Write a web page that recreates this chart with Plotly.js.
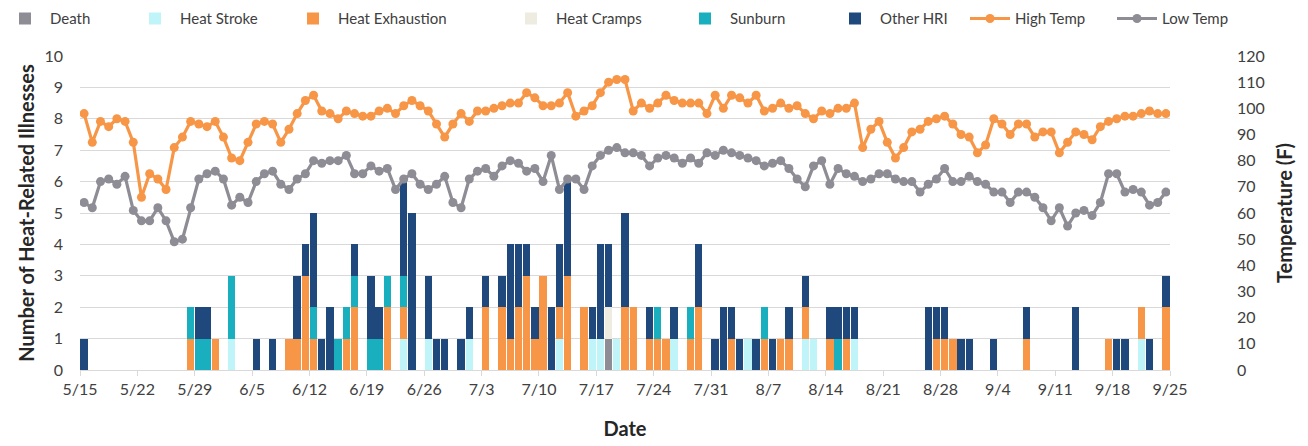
<!DOCTYPE html>
<html><head><meta charset="utf-8">
<script src="https://cdn.plot.ly/plotly-3.0.1.min.js"></script>
<style>html,body{margin:0;padding:0;background:#fff}#chart{width:1308px;height:446px}</style>
</head><body><div id="chart"></div>
<script>
// Daily series, 5/15 .. 9/24 (one row per week)
const startYMD = [2023, 4, 15];
const nDays = 133;
const tickLabels = ['5/15','5/22','5/29','6/5','6/12','6/19','6/26','7/3','7/10','7/17','7/24','7/31','8/7','8/14','8/21','8/28','9/4','9/11','9/18','9/25'];

const death = [
0,0,0,0,0,0,0, 0,0,0,0,0,0,0, 0,0,0,0,0,0,0, 0,0,0,0,0,0,0, 0,0,0,0,0,0,0,
0,0,0,0,0,0,0, 0,0,0,0,0,0,0, 0,0,0,0,0,0,0, 0,0,0,0,0,0,0, 0,1,0,0,0,0,0,
0,0,0,0,0,0,0, 0,0,0,0,0,0,0, 0,0,0,0,0,0,0, 0,0,0,0,0,0,0, 0,0,0,0,0,0,0,
0,0,0,0,0,0,0, 0,0,0,0,0,0,0, 0,0,0,0,0,0,0, 0,0,0,0,0,0,0];
const heatStroke = [
0,0,0,0,0,0,0, 0,0,0,0,0,0,0, 0,0,0,0,1,0,0, 0,0,0,0,0,0,0, 0,0,0,0,0,0,0,
0,0,0,0,1,0,0, 1,0,0,0,0,1,0, 0,0,0,0,0,0,0, 0,0,1,0,0,0,1, 1,0,1,0,0,0,0,
0,0,1,0,0,0,0, 0,0,0,0,1,0,0, 0,0,0,0,1,1,0, 0,0,0,1,0,0,0, 0,0,0,0,0,0,0,
0,0,0,0,0,0,0, 0,0,0,0,0,0,0, 0,0,0,0,0,0,0, 0,0,0,1,0,0,0];
const heatExhaustion = [
0,0,0,0,0,0,0, 0,0,0,0,0,0,1, 0,0,1,0,0,0,0, 0,0,0,0,1,1,3, 1,0,0,0,1,2,0,
0,0,2,0,1,0,0, 0,0,0,0,0,0,0, 2,0,2,1,2,3,1, 3,0,1,3,0,2,0, 0,0,0,2,2,0,1,
1,1,0,0,1,2,0, 0,0,1,0,0,0,1, 0,1,1,0,1,0,0, 1,0,1,0,0,0,0, 0,0,0,0,0,0,1,
1,1,0,0,0,0,0, 0,0,0,1,0,0,0, 0,0,0,0,0,0,1, 0,0,0,1,0,0,2];
const heatCramps = [
0,0,0,0,0,0,0, 0,0,0,0,0,0,0, 0,0,0,0,0,0,0, 0,0,0,0,0,0,0, 0,0,0,0,0,0,0,
0,0,0,0,0,0,0, 0,0,0,0,0,0,0, 0,0,0,0,0,0,0, 0,0,0,0,0,0,0, 0,1,0,0,0,0,0,
0,0,0,0,0,0,0, 0,0,0,0,0,0,0, 0,0,0,0,0,0,0, 0,0,0,0,0,0,0, 0,0,0,0,0,0,0,
0,0,0,0,0,0,0, 0,0,0,0,0,0,0, 0,0,0,0,0,0,0, 0,0,0,0,0,0,0];
const sunburn = [
0,0,0,0,0,0,0, 0,0,0,0,0,0,1, 1,1,0,0,2,0,0, 0,0,0,0,0,0,0, 1,0,0,1,1,1,0,
1,1,1,0,1,0,0, 0,0,0,0,0,0,0, 0,0,0,0,0,0,0, 0,0,0,0,0,0,0, 0,0,0,0,0,0,0,
1,0,0,0,1,0,0, 0,0,0,0,0,0,1, 0,0,0,0,0,0,0, 0,1,0,0,0,0,0, 0,0,0,0,0,0,0,
0,0,0,0,0,0,0, 0,0,0,0,0,0,0, 0,0,0,0,0,0,0, 0,0,0,0,0,0,0];
const otherHRI = [
1,0,0,0,0,0,0, 0,0,0,0,0,0,0, 1,1,0,0,0,0,0, 1,0,1,0,0,2,1, 3,1,2,0,0,1,0,
2,1,0,0,3,5,0, 2,1,1,0,1,1,0, 1,0,1,3,2,1,1, 0,2,2,3,0,0,1, 3,2,0,3,0,0,1,
0,0,1,0,0,2,0, 1,2,1,1,0,1,0, 1,0,1,0,1,0,0, 1,1,1,1,0,0,0, 0,0,0,0,0,2,1,
1,0,1,1,0,0,1, 0,0,0,1,0,0,0, 0,0,2,0,0,0,0, 1,1,0,0,1,0,1];
const highTemp = [
98,87,95,93,96,95,87, 66,75,73,69,85,89,95, 94,93,95,89,81,80,87, 94,95,94,87,92,98,103,
105,99,98,96,99,98,97, 97,99,100,98,101,103,101, 99,94,89,94,98,95,99, 99,100,101,102,102,106,104,
101,101,102,106,97,99,101, 106,110,111,111,99,102,100, 102,105,103,102,102,102,98, 105,100,105,104,102,105,99,
100,102,100,101,98,96,99, 98,100,100,102,85,92,95, 87,81,85,91,92,95,96, 97,94,90,89,83,86,96,
94,90,94,94,89,91,91, 83,87,91,90,88,93,95, 96,97,97,98,99,98,98];
const lowTemp = [
64,62,72,73,71,74,61, 57,57,62,57,49,50,62, 73,75,76,73,63,66,64, 72,75,76,71,69,73,75,
80,79,80,80,82,75,75, 78,76,77,69,73,75,71, 69,71,74,64,62,73,76, 77,74,78,80,79,76,77,
72,82,69,73,73,69,78, 82,84,85,83,83,82,78, 81,82,81,79,81,79,83, 82,84,83,82,81,80,78,
79,80,77,73,70,78,80, 71,77,75,74,72,73,75, 75,73,72,72,68,71,73, 77,72,72,74,72,71,68,
68,64,68,68,66,62,57, 62,55,60,61,59,64,75, 75,68,69,68,63,64,68];

const colors = {
  death:'#8E8C94', heatStroke:'#BFF4F9', heatExhaustion:'#F79646',
  heatCramps:'#EEECE1', sunburn:'#19AFBF', otherHRI:'#1F497D',
  high:'#F79646', low:'#8E8C94'
};

const DAY = 86400000;
const t0 = Date.UTC(startYMD[0], startYMD[1], startYMD[2]);
function dayStr(off){ return new Date(t0 + off*DAY).toISOString().slice(0,16).replace('T',' '); }
const dates = Array.from({length:nDays}, (_, i) => dayStr(i));
const tickVals = tickLabels.map((_, k) => dayStr(7*k - 0.5));

function barTrace(name, y, color){
  return {type:'bar', name, x:dates, y, marker:{color, line:{width:0}}, yaxis:'y'};
}
function lineTrace(name, y, color){
  return {type:'scatter', mode:'lines+markers', name, x:dates, y, yaxis:'y2',
    line:{color, width:3.2}, marker:{color, size:9}};
}

const data = [
  barTrace('Death', death, colors.death),
  barTrace('Heat Stroke', heatStroke, colors.heatStroke),
  barTrace('Heat Exhaustion', heatExhaustion, colors.heatExhaustion),
  barTrace('Heat Cramps', heatCramps, colors.heatCramps),
  barTrace('Sunburn', sunburn, colors.sunburn),
  barTrace('Other HRI', otherHRI, colors.otherHRI),
  lineTrace('High Temp', highTemp, colors.high),
  lineTrace('Low Temp', lowTemp, colors.low)
];

const FONT = 'Lato, "Liberation Sans", sans-serif';
const layout = {
  width:1308, height:446,
  margin:{l:80, r:10, t:56, b:76},
  font:{family:FONT, size:15, color:'#404040'},
  paper_bgcolor:'#fff', plot_bgcolor:'#fff',
  barmode:'stack', bargap:0.1,
  showlegend:true,
  xaxis:{type:'date', domain:[0, 1090/1218], range:[dayStr(-0.5), dayStr(132.5)],
    tickmode:'array', tickvals:tickVals, ticktext:tickLabels, tickangle:0,
    showgrid:false, zeroline:false, showline:true, linecolor:'#d9d9d9', linewidth:1,
    ticks:'outside', ticklen:5, tickcolor:'#d9d9d9',
    tickfont:{size:16, color:'#404040'},
    title:{text:'<b>Date</b>', font:{size:20, color:'#262626'}, standoff:24}},
  yaxis:{range:[0,10], dtick:1, showgrid:true, gridcolor:'#d9d9d9', zeroline:false,
    showline:false, ticks:'', ticklabelstandoff:16, tickfont:{size:16, color:'#404040'},
    title:{text:'<b>Number of Heat-Related Illnesses</b>', font:{size:20, color:'#262626'}, standoff:4}},
  yaxis2:{overlaying:'y', side:'right', anchor:'x', range:[0,120], dtick:10,
    showgrid:false, zeroline:false, showline:false, ticks:'', ticklabelstandoff:66,
    tickfont:{size:16, color:'#404040'},
    title:{text:'<b>Temperature (F)</b>', font:{size:20, color:'#262626'}, standoff:14}}
};

// One legend box per entry so each entry sits where the original places it
const legendTextX = [50, 180, 338, 556, 730, 880, 1015, 1162];
data.forEach((tr, i) => {
  const key = i === 0 ? 'legend' : 'legend' + (i + 1);
  tr.legend = key;
  layout[key] = {orientation:'h', xref:'container', yref:'container',
    x:(legendTextX[i] - 50) / 1308, y:0.995, xanchor:'left', yanchor:'top',
    itemwidth:40, bgcolor:'rgba(0,0,0,0)',
    font:{family:FONT, size:15, color:'#404040'}};
});

Plotly.newPlot('chart', data, layout, {displayModeBar:false, staticPlot:true});
</script>
</body></html>
